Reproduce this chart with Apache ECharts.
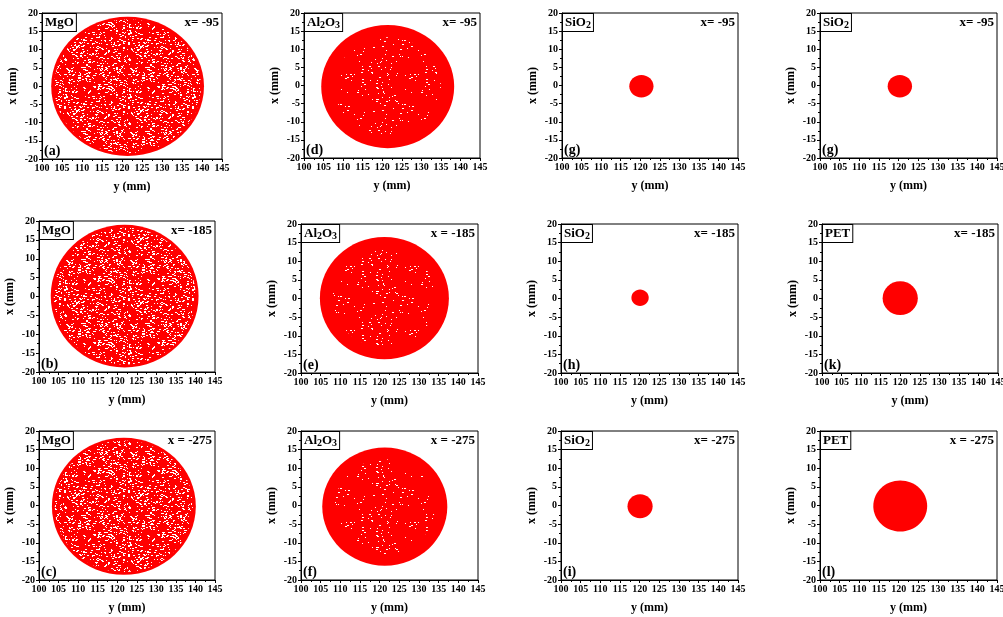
<!DOCTYPE html>
<html>
<head>
<meta charset="utf-8">
<script src="https://cdn.jsdelivr.net/npm/echarts@6/dist/echarts.min.js"></script>
<style>
  html, body { margin: 0; padding: 0; background: #ffffff; }
  #chart { width: 1003px; height: 617px; }
</style>
</head>
<body>
<div id="chart"></div>
<script>
// Beam spot footprints on the target plane, one panel per material and distance.
const panelLetters = ['a', 'd', 'g', 'g', 'b', 'e', 'h', 'k', 'c', 'f', 'i', 'l'];
const materials = ['MgO', 'Al2O3', 'SiO2', 'SiO2', 'MgO', 'Al2O3', 'SiO2', 'PET', 'MgO', 'Al2O3', 'SiO2', 'PET'];
const distanceLabels = ['x= -95', 'x= -95', 'x= -95', 'x= -95',
                        'x= -185', 'x = -185', 'x= -185', 'x= -185',
                        'x = -275', 'x = -275', 'x= -275', 'x = -275'];
// spot centre (y, x) and radius, mm
const spotCenterY = [121.4, 121.4, 120.3, 120.3, 121.9, 121.2, 120.1, 120.0, 121.7, 121.3, 120.1, 120.4];
const spotCenterX = [-0.1, -0.3, -0.2, -0.2, 0.1, 0.1, 0.2, 0.1, -0.2, -0.3, -0.2, -0.15];
const spotRadius = [19.1, 17.0, 3.1, 3.1, 18.9, 16.4, 2.2, 4.5, 18.4, 15.9, 3.2, 6.85];
// axis ranges: [min, max, step]
const yRange = [100, 145, 5];
const xRange = [-20, 20, 5];

// panel rectangles [left, top, width, height] in px
const panelRects = [
  [42, 13, 180, 146], [304, 13, 176, 145], [562, 13, 176, 145], [820, 13, 177, 145],
  [39, 221, 176, 151], [301, 224, 177, 149], [561, 224, 177, 149], [822, 224, 176, 149],
  [39, 431, 176, 149], [301, 431, 177, 149], [561, 431, 177, 149], [820, 431, 177, 149]
];

const FONT = '"Liberation Serif", "Times New Roman", serif';
const RED = '#ff0000';

// small deterministic hash used for the speckle texture of the dense point clouds
function hash(i, j, seed) {
  let n = (i * 374761393 + j * 668265263 + seed * 144665) | 0;
  n = Math.imul(n ^ (n >>> 13), 1274126177);
  n = n ^ (n >>> 16);
  return (n >>> 0) / 4294967296;
}

function makeSpeckle(size, density, seed, longFrac) {
  const cv = document.createElement('canvas');
  cv.width = size; cv.height = size;
  const ctx = cv.getContext('2d');
  ctx.fillStyle = RED;
  ctx.fillRect(0, 0, size, size);
  ctx.fillStyle = '#ffffff';
  for (let j = 0; j < size; j++) {
    for (let i = 0; i < size; i++) {
      if (hash(i, j, seed) < density) {
        const w = hash(j, i, seed + 7) < longFrac ? 2 : 1;
        ctx.fillRect(i, j, w, 1);
      }
    }
  }
  return cv;
}

const denseTexture = makeSpeckle(64, 0.11, 3, 0.5);
const sparseTexture = makeSpeckle(64, 0.025, 11, 0.3);

function textureFor(material) {
  if (material === 'MgO') return { image: denseTexture, scale: 0.96 };
  if (material === 'Al2O3') return { image: sparseTexture, scale: 0.8 };
  return null;
}

function materialRich(material) {
  if (material === 'Al2O3') return '{m|Al}{s|2}{m|O}{s|3}';
  if (material === 'SiO2') return '{m|SiO}{s|2}';
  return '{m|' + material + '}';
}

const grids = [], xAxes = [], yAxes = [], series = [], graphics = [];

panelRects.forEach(function (r, i) {
  const [left, top, width, height] = r;
  grids.push({
    left: left, top: top, width: width, height: height,
    show: true, borderColor: '#000', borderWidth: 1, backgroundColor: 'transparent',
    containLabel: false, outerBoundsMode: 'none'
  });
  const axisCommon = {
    gridIndex: i,
    type: 'value',
    nameLocation: 'middle',
    nameTextStyle: { fontFamily: FONT, fontWeight: 'bold', fontSize: 12, color: '#000' },
    axisLine: { show: true, onZero: false, lineStyle: { color: '#000', width: 1 } },
    axisTick: { show: true, inside: false, length: 3, lineStyle: { color: '#000', width: 1 } },
    minorTick: { show: true, splitNumber: 2, length: 2, lineStyle: { color: '#000', width: 1 } },
    splitLine: { show: false },
    axisLabel: {
      fontFamily: FONT, fontWeight: 'bold', fontSize: 10, color: '#000', margin: 4,
      showMinLabel: true, showMaxLabel: true, hideOverlap: false
    }
  };
  xAxes.push(Object.assign({}, axisCommon, {
    min: yRange[0], max: yRange[1], interval: yRange[2],
    name: 'y (mm)', nameGap: 22
  }));
  yAxes.push(Object.assign({}, axisCommon, {
    min: xRange[0], max: xRange[1], interval: xRange[2],
    name: 'x (mm)', nameGap: 23
  }));

  const tex = textureFor(materials[i]);
  series.push({
    type: 'custom',
    xAxisIndex: i,
    yAxisIndex: i,
    silent: true,
    data: [[spotCenterY[i], spotCenterX[i], spotRadius[i]]],
    renderItem: function (params, api) {
      const c = api.coord([api.value(0), api.value(1)]);
      const s = api.size([api.value(2), api.value(2)]);
      const children = [{
        type: 'ellipse',
        shape: { cx: c[0], cy: c[1], rx: s[0], ry: s[1] },
        style: { fill: RED }
      }];
      if (tex) {
        children.push({
          type: 'ellipse',
          shape: { cx: c[0], cy: c[1], rx: s[0] * tex.scale, ry: s[1] * tex.scale },
          style: { fill: { image: tex.image, repeat: 'repeat' } }
        });
      }
      return { type: 'group', children: children };
    }
  });

  // material tag (boxed), top-left
  graphics.push({
    type: 'text',
    x: left + 1, y: top + 1,
    style: {
      text: materialRich(materials[i]),
      rich: {
        m: { fontFamily: FONT, fontWeight: 'bold', fontSize: 13, fill: '#000', lineHeight: 15 },
        s: { fontFamily: FONT, fontWeight: 'bold', fontSize: 10, fill: '#000', lineHeight: 15, padding: [5, 0, 0, 0] }
      },
      borderColor: '#000', borderWidth: 1, padding: [1, 2, 1, 2],
      backgroundColor: '#fff'
    },
    z: 10
  });
  // distance label, top-right
  graphics.push({
    type: 'text',
    x: left + width - 3, y: top + 10,
    style: {
      text: distanceLabels[i], align: 'right', verticalAlign: 'middle',
      fontFamily: FONT, fontWeight: 'bold', fontSize: 13, fill: '#000'
    },
    z: 10
  });
  // panel letter, bottom-left
  graphics.push({
    type: 'text',
    x: left + 2, y: top + height - 8,
    style: {
      text: '(' + panelLetters[i] + ')', align: 'left', verticalAlign: 'middle',
      fontFamily: FONT, fontWeight: 'bold', fontSize: 14, fill: '#000'
    },
    z: 10
  });
});

const chart = echarts.init(document.getElementById('chart'), null, { renderer: 'canvas' });
chart.setOption({
  animation: false,
  backgroundColor: '#ffffff',
  grid: grids,
  xAxis: xAxes,
  yAxis: yAxes,
  series: series,
  graphic: graphics
});
</script>
</body>
</html>
